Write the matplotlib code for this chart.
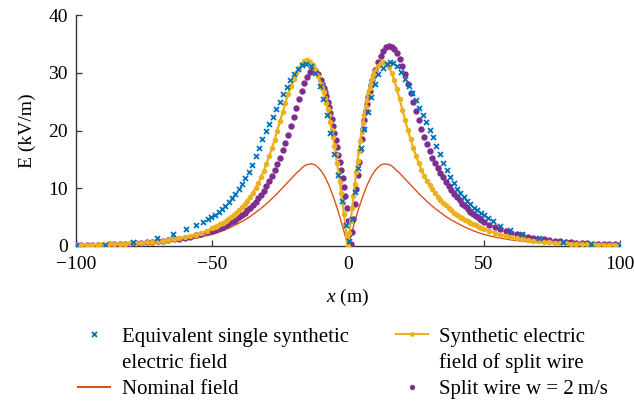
import numpy as np
import matplotlib
matplotlib.use('Agg')
import matplotlib.pyplot as plt
from matplotlib.lines import Line2D

plt.rcParams['font.family'] = 'Liberation Serif'
plt.rcParams['mathtext.fontset'] = 'custom'
plt.rcParams['mathtext.rm'] = 'Liberation Serif'
plt.rcParams['mathtext.it'] = 'Liberation Serif:italic'

# sample positions (m) for the split wire curves
x_grid = np.concatenate([np.arange(-100, -51, 2), np.arange(-50, -9, 1),
                         np.arange(-9.5, 10, 0.5), np.arange(10, 51, 1),
                         np.arange(52, 101, 2)])

# synthetic electric field of split wire (kV/m)
e_split = [0.15, 0.17, 0.19, 0.21, 0.23, 0.26, 0.29, 0.32, 0.36, 0.40, 0.45, 0.50, 0.56,
           0.63, 0.71, 0.80, 0.90, 1.02, 1.16, 1.32, 1.50, 1.72, 1.98, 2.28, 2.64,
           3.05, 3.25, 3.5, 3.75, 4.0, 4.3, 4.6, 4.95, 5.35, 5.75,
           6.2, 6.7, 7.25, 7.85, 8.5, 9.2, 10.0, 10.9, 11.9, 13.0,
           14.2, 15.5, 16.9, 18.4, 20.0, 21.6, 23.2, 24.8, 26.3, 27.7,
           28.9, 29.9, 30.8, 31.5, 32.0, 32.2, 31.9, 31.4, 30.6, 29.5, 28.1,
           27.4, 26.6, 25.7, 24.8, 23.7, 22.6, 21.4, 20.1, 18.8, 17.4,
           15.9, 14.3, 12.7, 11.0, 9.2, 7.4, 5.6, 3.7, 1.8, 0.0,
           2.2, 4.4, 6.6, 8.7, 10.8, 12.8, 14.7, 16.5, 18.2, 19.8,
           21.3, 22.7, 24.0, 25.2, 26.3, 27.3, 28.2, 29.0, 29.7,
           30.3, 31.2, 31.7, 31.8, 31.6, 31.0, 30.0, 28.7, 27.1, 25.4, 23.6,
           21.8, 20.1, 18.5, 17.0, 15.6, 14.3, 13.2, 12.2, 11.3, 10.5,
           9.8, 9.15, 8.55, 8.0, 7.5, 7.05, 6.6, 6.2, 5.8, 5.45,
           5.1, 4.8, 4.5, 4.25, 4.0, 3.75, 3.55, 3.35, 3.15, 3.0,
           2.62, 2.28, 1.98, 1.72, 1.5, 1.32, 1.16, 1.02, 0.9, 0.8, 0.71, 0.63,
           0.56, 0.5, 0.45, 0.4, 0.36, 0.32, 0.29, 0.26, 0.23, 0.21, 0.19, 0.17, 0.15]

# split wire, w = 2 m/s (kV/m)
e_wind = [0.13, 0.15, 0.17, 0.19, 0.21, 0.23, 0.26, 0.29, 0.33, 0.38, 0.43, 0.49, 0.55,
          0.62, 0.7, 0.8, 0.91, 1.02, 1.15, 1.29, 1.45, 1.63, 1.85, 2.1, 2.38,
          2.65, 2.8, 2.95, 3.15, 3.35, 3.6, 3.85, 4.1, 4.4, 4.7,
          5.05, 5.4, 5.8, 6.2, 6.65, 7.15, 7.7, 8.3, 8.9, 9.6,
          10.4, 11.2, 12.1, 13.1, 14.2, 15.3, 16.6, 17.9, 19.3, 20.8,
          22.3, 23.9, 25.4, 26.9, 28.2, 29.3, 30.1, 30.5, 30.5, 29.8, 28.8,
          28.1, 27.4, 26.7, 25.9, 25.0, 24.1, 23.1, 22.0, 20.8, 19.6,
          18.4, 17.1, 15.8, 14.5, 13.2, 11.8, 10.3, 8.6, 6.5, 4.3,
          2.0, 0.3, 2.4, 4.7, 7.2, 9.8, 12.3, 14.6, 16.7, 18.6,
          20.3, 21.9, 23.3, 24.6, 25.8, 26.9, 27.9, 28.8, 29.6,
          30.4, 31.8, 32.9, 33.8, 34.4, 34.6, 34.5, 34.1, 33.4, 32.4, 31.1,
          29.7, 28.1, 26.5, 24.9, 23.3, 21.8, 20.3, 18.9, 17.6, 16.4,
          15.3, 14.35, 13.5, 12.7, 11.9, 11.1, 10.4, 9.7, 9.05, 8.45,
          7.9, 7.35, 6.85, 6.4, 5.95, 5.55, 5.15, 4.8, 4.45, 4.15,
          3.65, 3.25, 2.9, 2.6, 2.3, 2.05, 1.83, 1.63, 1.45, 1.29, 1.15, 1.03,
          0.92, 0.82, 0.73, 0.65, 0.58, 0.52, 0.46, 0.41, 0.37, 0.33, 0.3, 0.27, 0.24]

# nominal field
x_nom = np.concatenate([np.arange(-100, -50, 5), np.arange(-50, -30, 2),
                        np.arange(-30, 31, 1), np.arange(32, 51, 2),
                        np.arange(55, 101, 5)])
e_nom = [0.17, 0.2, 0.24, 0.3, 0.37, 0.47, 0.6, 0.8, 1.05, 1.45,
         2.0, 2.3, 2.65, 3.05, 3.5, 4.0, 4.5, 5.1, 5.8, 6.5,
         7.3, 7.7, 8.2, 8.6, 9.1, 9.6, 10.1, 10.6, 11.1, 11.6,
         12.1, 12.6, 13.0, 13.5, 13.9, 14.1, 14.2, 14.2, 14.0, 13.6,
         13.1, 12.4, 11.5, 10.5, 9.3, 8.0, 6.6, 5.0, 3.4, 1.7, 0.0,
         1.7, 3.4, 5.0, 6.6, 8.0, 9.3, 10.5, 11.5, 12.4, 13.1,
         13.6, 14.0, 14.2, 14.2, 14.1, 13.9, 13.5, 13.0, 12.6, 12.1,
         11.6, 11.1, 10.6, 10.1, 9.6, 9.1, 8.6, 8.2, 7.7, 7.3,
         6.5, 5.8, 5.1, 4.5, 4.0, 3.5, 3.05, 2.65, 2.3, 2.0,
         1.45, 1.05, 0.8, 0.6, 0.47, 0.37, 0.3, 0.24, 0.2, 0.17]

# equivalent single synthetic electric field
x_eq = [-100, -89.4, -79.2, -70.4, -64.2, -59.4, -55.9, -53.4, -51.6, -50.2,
        -48.9, -47.6, -46.3, -45.1, -43.9, -42.6, -41.4, -40.2, -39.0, -37.8,
        -36.5, -35.2, -34.0, -32.7, -31.5, -30.3, -29.0, -27.7, -26.4, -25.1,
        -23.9, -22.6, -21.2, -19.8, -18.3, -16.8, -15.3, -13.7, -12.0, -10.4,
        -9.1, -7.8, -6.5, -5.2, -3.8, -2.3, -0.9, 0.4, 1.3, 2.4,
        3.6, 4.7, 5.9, 7.2, 8.5, 9.8, 11.2, 12.7, 14.2, 15.5,
        16.7, 18.0, 19.5, 21.0, 22.4, 23.6, 24.9, 26.2, 27.5, 28.7,
        30.0, 31.2, 32.4, 33.7, 35.0, 36.3, 37.5, 38.8, 40.1, 41.3,
        42.5, 43.8, 45.0, 46.2, 47.5, 48.8, 50.1, 51.5, 53.2, 55.9,
        59.4, 64.1, 70.4, 79.0, 89.4, 100]
e_eq = [0.1, 0.25, 0.75, 1.4, 2.15, 2.9, 3.55, 4.15, 4.65, 5.05,
        5.45, 5.9, 6.4, 6.95, 7.55, 8.25, 9.0, 9.85, 10.7, 11.7,
        12.8, 14.1, 15.5, 17.0, 18.5, 19.9, 21.1, 22.4, 23.7, 25.0,
        26.3, 27.5, 28.7, 29.8, 30.7, 31.3, 31.5, 31.1, 29.9, 27.7,
        25.5, 22.7, 19.5, 16.0, 12.3, 7.8, 3.6, 0.8, 4.6, 9.3,
        13.5, 17.0, 20.3, 23.2, 25.8, 28.0, 29.8, 30.9, 31.6, 31.9,
        31.7, 31.1, 30.2, 29.0, 27.7, 26.5, 25.2, 23.9, 22.6, 21.4,
        20.1, 18.8, 17.4, 15.9, 14.4, 13.1, 11.9, 10.9, 9.95, 9.1,
        8.4, 7.75, 7.2, 6.65, 6.15, 5.7, 5.3, 4.8, 4.25, 3.45,
        2.8, 2.1, 1.35, 0.72, 0.28, 0.12]

c_blue = '#0072BD'
c_red = '#D95319'
c_orange = '#EDB120'
c_purple = '#7E2F8E'

fig = plt.figure(figsize=(6.34, 4.04), dpi=100)
ax = fig.add_axes([76/634, 1-246/404, (620-76)/634, (246-15)/404])

ax.plot(x_nom, e_nom, color=c_red, lw=1.0, zorder=2)
ax.plot(x_grid, e_wind, ls='none', marker='o', ms=4.6, mew=0, color=c_purple, zorder=3)
ax.plot(x_grid, e_split, color=c_orange, lw=1.6, marker='o', ms=4.0, mew=0, zorder=4)
ax.plot(x_eq, e_eq, ls='none', marker='x', ms=3.6, mew=1.3, color=c_blue, zorder=5)

ax.set_xlim(-100, 100)
ax.set_ylim(0, 40)
ax.set_xticks([-100, -50, 0, 50, 100])
ax.set_yticks([0, 10, 20, 30, 40])
for s in ['top', 'right']:
    ax.spines[s].set_visible(False)
for s in ['left', 'bottom']:
    ax.spines[s].set_color('#333333')
    ax.spines[s].set_linewidth(1.0)
ax.tick_params(direction='in', length=4, width=0.9, color='#333333', labelsize=14, pad=6)
ax.tick_params(axis='x', pad=7)

ax.set_xlabel('$x$ (m)', fontsize=14, labelpad=10)
ax.set_ylabel('E (kV/m)', fontsize=14, labelpad=9)

blank = Line2D([], [], ls='none')
handles = [Line2D([], [], ls='none', marker='x', ms=3.6, mew=1.3, color=c_blue),
           blank,
           Line2D([], [], color=c_red, lw=1.5),
           Line2D([], [], color=c_orange, lw=1.5, marker='o', ms=3.5, mew=0),
           blank,
           Line2D([], [], ls='none', marker='o', ms=3.8, mew=0, color=c_purple)]
labels = ['Equivalent single synthetic', 'electric field', 'Nominal field',
          'Synthetic electric', 'field of split wire', 'Split wire w = 2\u2009m/s']
fig.legend(handles, labels, ncol=2, loc='upper left', bbox_to_anchor=(78/634, 1-327/404),
           frameon=False, fontsize=15, handlelength=1.55, handletextpad=0.55,
           columnspacing=2.25, labelspacing=0.32, borderpad=0, borderaxespad=0)

fig.savefig('out.png', dpi=100)
